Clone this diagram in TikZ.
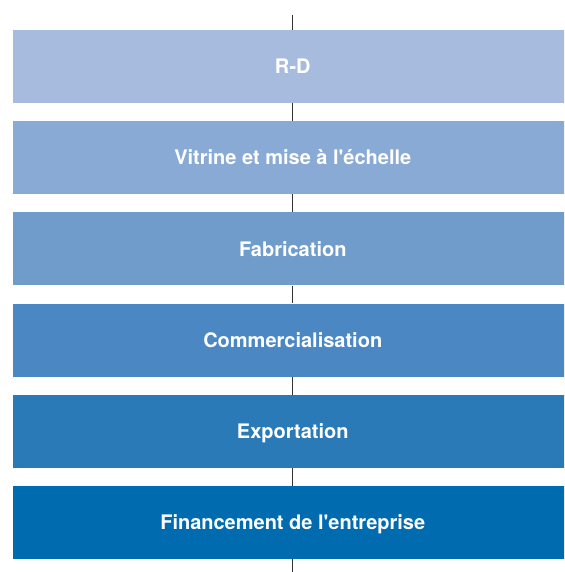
\documentclass[tikz,border=0pt]{standalone}
\usepackage{fontspec}
\setmainfont{TeX Gyre Heros}[Ligatures=TeXOff]
\definecolor{c1}{HTML}{A6BBDD}
\definecolor{c2}{HTML}{88AAD5}
\definecolor{c3}{HTML}{709CCB}
\definecolor{c4}{HTML}{4A87C3}
\definecolor{c5}{HTML}{2A7AB8}
\definecolor{c6}{HTML}{006BAF}
\definecolor{linec}{HTML}{333333}
\begin{document}
\begin{tikzpicture}[x=1pt,y=-1pt,
  stagebox/.style={rectangle, draw=none, minimum width=560.5pt, minimum height=73pt,
    inner sep=0pt, text=white, text height=14.5pt, text depth=0pt,
    font=\fontsize{20}{24}\selectfont\bfseries},
  link/.style={draw=linec, line width=0.8pt}]
\useasboundingbox (0,0) rectangle (564,572);
\clip (0,0) rectangle (564,572);
\node[stagebox, fill=c1] (s1) at (292.75,66.4) {R-D};
\node[stagebox, fill=c2] (s2) at (292.75,157.6) {Vitrine et mise à l'échelle};
\node[stagebox, fill=c3] (s3) at (292.75,248.8) {Fabrication};
\node[stagebox, fill=c4] (s4) at (292.75,340.0) {Commercialisation};
\node[stagebox, fill=c5] (s5) at (292.75,431.2) {Exportation};
\node[stagebox, fill=c6] (s6) at (292.75,522.4) {Financement de l'entreprise};
\coordinate (top) at (292.75,15);
\coordinate (bot) at (292.75,573);
\draw[link] (top) -- (s1.north);
\draw[link] (s1.south) -- (s2.north);
\draw[link] (s2.south) -- (s3.north);
\draw[link] (s3.south) -- (s4.north);
\draw[link] (s4.south) -- (s5.north);
\draw[link] (s5.south) -- (s6.north);
\draw[link] (s6.south) -- (bot);
\end{tikzpicture}
\end{document}
